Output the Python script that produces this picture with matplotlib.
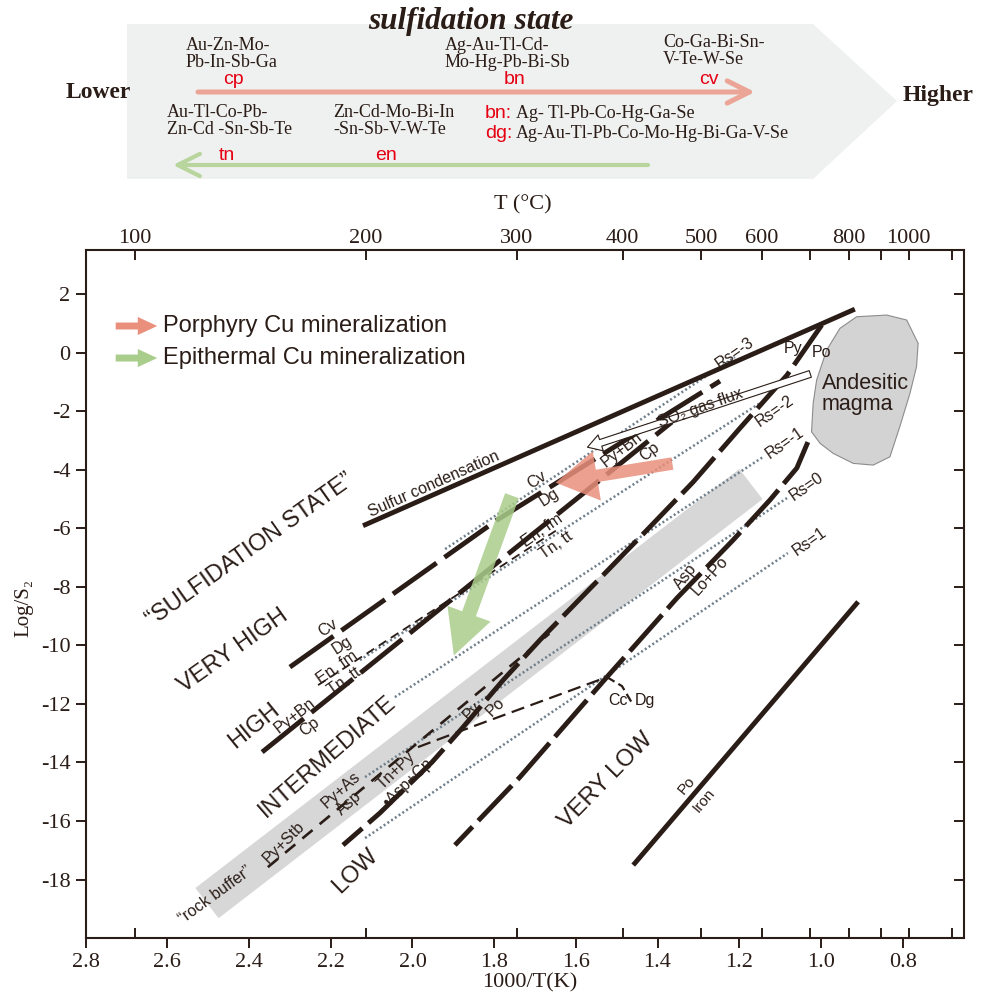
import matplotlib
matplotlib.use("Agg")
import matplotlib.pyplot as plt
from matplotlib.patches import FancyArrowPatch, Polygon

# ---------------- data: x = 1000/T(K), y = log fS2 ----------------
sulfur_x = [2.121, 0.917]
sulfur_y = [-5.91, 1.49]

pypo_x = [0.998, 1.083, 1.198, 1.313, 1.426, 1.688, 1.778, 1.876, 1.952, 2.080, 2.170]
pypo_y = [0.947, -0.762, -2.573, -4.419, -6.059, -9.818, -11.186, -12.792, -13.988, -15.731, -16.825]

asp_x = [1.032, 1.059, 1.125, 1.215, 1.3525, 1.524, 1.737, 1.896]
asp_y = [-3.052, -3.94, -5.034, -6.401, -8.383, -11.083, -14.501, -16.825]

iron_x = [1.4595, 0.909]
iron_y = [-17.508, -8.51]

cvdg_x = [2.300, 1.793, 1.247]
cvdg_y = [-10.741, -5.717, -0.967]

pybn_x = [2.368, 1.365]
pybn_y = [-13.646, -2.368]

enfm_x = [2.231, 1.639]
enfm_y = [-11.357, -5.991]

pystb_x = [2.354, 1.665]
pystb_y = [-17.577, -9.6]

tnpy_x = [1.9865, 1.876, 1.524]
tnpy_y = [-13.475, -12.894, -11.083]

ccdg_x = [1.524, 1.487, 1.4595]
ccdg_y = [-11.083, -11.391, -12.04]

rs_names = ["Rs=-3", "Rs=-2", "Rs=-1", "Rs=0", "Rs=1"]
rs_x0 = [1.920, 2.1285, 2.043, 2.116, 2.116]
rs_y0 = [-6.708, -10.502, -11.767, -14.501, -16.586]
rs_x1 = [1.2105, 1.149, 1.142, 1.083, 1.081]
rs_y1 = [-0.147, -1.719, -3.564, -4.965, -6.845]
rs_lx = [1.2105, 1.1126, 1.088, 1.034, 1.027]
rs_ly = [-0.01, -1.992, -3.086, -4.555, -6.435]

buffer_x = [2.503, 1.1713]
buffer_y = [-18.807, -4.487]

magma_x = [0.9535, 0.9126, 0.839, 0.790, 0.762, 0.766, 0.782, 0.807, 0.831,
           0.872, 0.921, 0.970, 1.002, 1.023, 1.019, 1.0105, 0.986]
magma_y = [0.834, 1.231, 1.289, 1.118, 0.322, -0.478, -1.387, -2.529, -3.554,
           -3.838, -3.78, -3.438, -3.096, -2.70, -1.729, -0.933, 0.093]

porphyry_arrow = [(1.357, -3.769), (1.656, -4.453)]
epithermal_arrow = [(1.754, -4.795), (1.901, -10.434)]
so2_arrow = [(1.0196, -0.693), (1.578, -3.257)]

# text, x, y, rotation, size
labels = [
    ("Sulfur condensation", 1.948, -4.49, 24, 11.5),
    ("\u201cSULFIDATION STATE\u201d", 2.398, -6.743, 35.3, 17),
    ("VERY HIGH", 2.439, -10.195, 35.3, 17),
    ("HIGH", 2.388, -12.758, 39, 17),
    ("INTERMEDIATE", 2.207, -13.783, 41, 17),
    ("LOW", 2.141, -17.713, 44, 17),
    ("VERY LOW", 1.526, -14.603, 45.6, 17),
    ("Cv", 1.695, -4.35, 33, 11.5),
    ("Dg", 1.666, -4.931, 33, 11.5),
    ("Cv", 2.207, -9.408, 33, 11.5),
    ("Dg", 2.173, -9.989, 33, 11.5),
    ("En, fm", 2.185, -10.741, 35, 11.5),
    ("Tn, tt", 2.168, -11.22, 35, 11.5),
    ("En, fm", 1.683, -6.059, 35, 11.5),
    ("Tn, tt", 1.6487, -6.572, 35, 11.5),
    ("Py+Bn", 2.288, -12.382, 38, 11.5),
    ("Cp", 2.251, -12.792, 38, 11.5),
    ("Py+Bn", 1.487, -3.291, 38, 11.5),
    ("Cp", 1.4186, -3.393, 38, 11.5),
    ("Py", 1.0685, 0.161, 0, 11.5),
    ("Po", 0.998, 0.024, 0, 11.5),
    ("Asp", 1.3305, -7.65, 52, 11.5),
    ("Lo+Po", 1.2705, -7.631, 48, 11.5),
    ("Cc", 1.497, -11.869, 0, 11.5),
    ("Dg", 1.431, -11.869, 0, 11.5),
    ("Po", 1.328, -14.774, 50, 11),
    ("Iron", 1.2864, -15.287, 50, 11),
    ("Py+Stb", 2.3146, -16.722, 45, 11.5),
    ("Py+As", 2.175, -14.945, 42, 11.5),
    ("Asp", 2.155, -15.389, 42, 11.5),
    ("Tn+Py", 2.040, -14.262, 44, 11.5),
    ("\u2022Asp+Cp", 2.011, -14.706, 44, 11.5),
    ("Py", 1.854, -12.245, 45, 11.5),
    ("Po", 1.798, -12.108, 45, 11.5),
    ("\u201crock buffer\u201d", 2.4835, -18.533, 36, 11.5),
]

x_ticks = [2.8, 2.6, 2.4, 2.2, 2.0, 1.8, 1.6, 1.4, 1.2, 1.0, 0.8]
y_ticks = [-18, -16, -14, -12, -10, -8, -6, -4, -2, 0, 2]
t_major = [100, 200, 300, 400, 500, 600, 800, 1000]
t_minor = [700, 900, 1200]

# banner content
banner_upper = ["Au-Zn-Mo-\nPb-In-Sb-Ga", "Ag-Au-Tl-Cd-\nMo-Hg-Pb-Bi-Sb", "Co-Ga-Bi-Sn-\nV-Te-W-Se"]
banner_lower = ["Au-Tl-Co-Pb-\nZn-Cd -Sn-Sb-Te", "Zn-Cd-Mo-Bi-In\n-Sn-Sb-V-W-Te"]
banner_red_top = ["cp", "bn", "cv"]
banner_red_bottom = ["tn", "en"]
banner_keys = ["bn:", "dg:"]
banner_key_text = ["Ag- Tl-Pb-Co-Hg-Ga-Se", "Ag-Au-Tl-Pb-Co-Mo-Hg-Bi-Ga-V-Se"]

ink = "#2a1c16"
red = "#e60012"
salmon = "#e98f7b"
green = "#a9cd8b"
serif = ["Liberation Serif", "DejaVu Serif"]
sans = ["Liberation Sans", "DejaVu Sans"]

fig = plt.figure(figsize=(9.87, 10.01), dpi=100)

# ---------------- banner ----------------
bn = fig.add_axes([0, 1 - 200 / 1001, 1, 200 / 1001])
bn.set_xlim(0, 987)
bn.set_ylim(200, 0)
bn.axis("off")
bn.add_patch(Polygon([(127, 24), (813, 24), (897, 101), (813, 179), (127, 179)],
                     closed=True, fc="#eff0f0", ec="none"))
bn.add_patch(FancyArrowPatch((198, 92), (755, 92), arrowstyle="->,head_length=0.8,head_width=0.4",
                             mutation_scale=20, lw=3.6, color="#eba596", shrinkA=0, shrinkB=0))
bn.add_patch(FancyArrowPatch((648, 165), (173, 165), arrowstyle="->,head_length=0.8,head_width=0.4",
                             mutation_scale=20, lw=3.0, color="#b7d59d", shrinkA=0, shrinkB=0))
bn.text(471, 22, "sulfidation state", ha="center", va="center", fontsize=22.5,
        fontweight="bold", fontstyle="italic", family=serif, color=ink)
bn.text(98, 92, "Lower", ha="center", va="center", fontsize=17, fontweight="bold", family=serif, color=ink)
bn.text(938, 95, "Higher", ha="center", va="center", fontsize=17, fontweight="bold", family=serif, color=ink)
for txt, x, y in zip(banner_upper, [186, 445, 663], [54, 54, 51]):
    bn.text(x, y, txt, ha="left", va="center", fontsize=13, family=serif,
            color=ink, linespacing=1.05)
for txt, x in zip(banner_lower, [167, 333]):
    bn.text(x, 121, txt, ha="left", va="center", fontsize=13, family=serif,
            color=ink, linespacing=1.05)
for txt, x in zip(banner_red_top, [233, 515, 709]):
    bn.text(x, 80, txt, ha="center", va="center", fontsize=14, family=sans, color=red)
for txt, x in zip(banner_red_bottom, [227, 386]):
    bn.text(x, 155, txt, ha="center", va="center", fontsize=14, family=sans, color=red)
for key, txt, y in zip(banner_keys, banner_key_text, [113, 133]):
    bn.text(485, y, key, ha="left", va="center", fontsize=14, family=sans, color=red)
    bn.text(516, y, txt, ha="left", va="center", fontsize=13, family=serif, color=ink)

# ---------------- main diagram ----------------
ax = fig.add_axes([0.0868, 0.0629, 0.8902, 0.6870])
ax.set_xlim(2.8, 0.649)
ax.set_ylim(-20, 3.5)

ax.plot(buffer_x, buffer_y, color="#d7d7d7", lw=27.4, solid_capstyle="butt", zorder=1)
ax.add_patch(Polygon(list(zip(magma_x, magma_y)), closed=True, fc="#d3d3d3",
                     ec="#8c8c8c", lw=0.8, zorder=2))

for x0, y0, x1, y1 in zip(rs_x0, rs_y0, rs_x1, rs_y1):
    ax.plot([x0, x1], [y0, y1], color="#6f7f8b", lw=1.8, linestyle=(0, (0.8, 1.0)), zorder=2)

thick = dict(color=ink, lw=3.5, solid_capstyle="butt", dash_capstyle="butt", zorder=3)
ax.plot(sulfur_x, sulfur_y, **thick)
ax.plot(iron_x, iron_y, **thick)
ax.plot(pypo_x, pypo_y, dashes=(10, 1.7), **thick)
ax.plot(asp_x, asp_y, dashes=(10, 1.7), **thick)
ax.plot(cvdg_x, cvdg_y, dashes=(11, 2), **thick)
ax.plot(pybn_x, pybn_y, dashes=(11, 2), **thick)

ax.plot(pystb_x, pystb_y, color=ink, lw=1.9, dashes=(5, 3.5), zorder=3)
ax.plot(tnpy_x, tnpy_y, color=ink, lw=1.6, dashes=(6, 3), zorder=3)
ax.plot(ccdg_x, ccdg_y, color=ink, lw=1.6, dashes=(4, 2), zorder=3)
ax.plot(enfm_x, enfm_y, color=ink, lw=1.3, dashes=(5, 3), zorder=3)

ax.add_patch(FancyArrowPatch(so2_arrow[0], so2_arrow[1],
                             arrowstyle="simple,head_length=10,head_width=12,tail_width=5",
                             mutation_scale=1, fc="white", ec=ink, lw=0.8, zorder=4))
ax.add_patch(FancyArrowPatch(porphyry_arrow[0], porphyry_arrow[1],
                             arrowstyle="simple,head_length=30,head_width=36,tail_width=9",
                             mutation_scale=1, fc=salmon, ec="none", alpha=0.85, zorder=5))
ax.add_patch(FancyArrowPatch(epithermal_arrow[0], epithermal_arrow[1],
                             arrowstyle="simple,head_length=32,head_width=33,tail_width=10.5",
                             mutation_scale=1, fc=green, ec="none", alpha=0.85, zorder=5))

for txt, x, y, rot, size in labels:
    ax.text(x, y, txt, rotation=rot, rotation_mode="anchor", ha="center", va="center",
            fontsize=size, family=sans, color=ink, zorder=6)
for txt, x, y in zip(rs_names, rs_lx, rs_ly):
    ax.text(x, y, txt, rotation=35, rotation_mode="anchor", ha="center", va="center",
            fontsize=11.5, family=sans, color=ink, zorder=6)
ax.text(0.998, -1.411, "Andesitic\nmagma", ha="left", va="center", fontsize=15.5,
        family=sans, color=ink, linespacing=1.05, zorder=6)
ax.text(1.296, -1.89, "SO\u2082 gas flux", rotation=19.7, rotation_mode="anchor",
        ha="center", va="center", fontsize=11.5, family=sans, color=ink, zorder=6)

# legend arrows
for yy, col, txt in [(0.890, salmon, "Porphyry Cu mineralization"),
                     (0.8434, green, "Epithermal Cu mineralization")]:
    ax.add_patch(FancyArrowPatch((0.031, yy), (0.0846, yy), transform=ax.transAxes,
                                 arrowstyle="simple,head_length=14,head_width=13,tail_width=5",
                                 mutation_scale=1, fc=col, ec="none"))
    ax.text(0.0885, yy, txt, transform=ax.transAxes, ha="left", va="center",
            fontsize=17, family=sans, color=ink)

# axes styling
for s in ax.spines.values():
    s.set_linewidth(1.5)
    s.set_color(ink)
ax.set_xticks(x_ticks)
ax.set_xticklabels([f"{v:.1f}" for v in x_ticks], family=serif, fontsize=16)
ax.set_yticks(y_ticks)
ax.set_yticklabels([str(v) for v in y_ticks], family=serif, fontsize=16)
ax.tick_params(direction="out", length=7, width=1.4, color=ink, labelcolor=ink, pad=4)
ax.set_xlabel("1000/T(K)", family=serif, fontsize=16, color=ink)
ax.xaxis.set_label_coords(0.5057, -0.051)
ax.set_ylabel("Log/S\u2082", family=serif, fontsize=15, color=ink)
ax.yaxis.set_label_coords(-0.059, 0.48)

t_pos = [1000 / (t + 273.15) for t in t_major]
t_min = [1000 / (t + 273.15) for t in t_minor]

axt = ax.twiny()
axt.set_xlim(ax.get_xlim())
axt.set_xticks(t_pos)
axt.set_xticklabels([str(t) for t in t_major], family=serif, fontsize=16)
axt.set_xticks(t_min, minor=True)
axt.tick_params(which="both", direction="in", length=7, width=1.4, color=ink,
                labelcolor=ink, pad=1.5)
axt.set_xlabel("T (\u00b0C)", family=serif, fontsize=16, color=ink)
axt.xaxis.set_label_coords(0.4977, 1.060)
for s in axt.spines.values():
    s.set_visible(False)

axb = ax.twiny()
axb.set_xlim(ax.get_xlim())
axb.xaxis.set_ticks_position("bottom")
axb.set_xticks(t_pos + t_min)
axb.tick_params(direction="in", length=7, width=1.4, color=ink,
                labelbottom=False, labeltop=False)
for s in axb.spines.values():
    s.set_visible(False)

axr = ax.twinx()
axr.set_ylim(ax.get_ylim())
axr.set_yticks(y_ticks)
axr.tick_params(direction="in", length=7, width=1.4, color=ink, labelright=False)
for s in axr.spines.values():
    s.set_visible(False)

fig.savefig("out.png", dpi=100)
